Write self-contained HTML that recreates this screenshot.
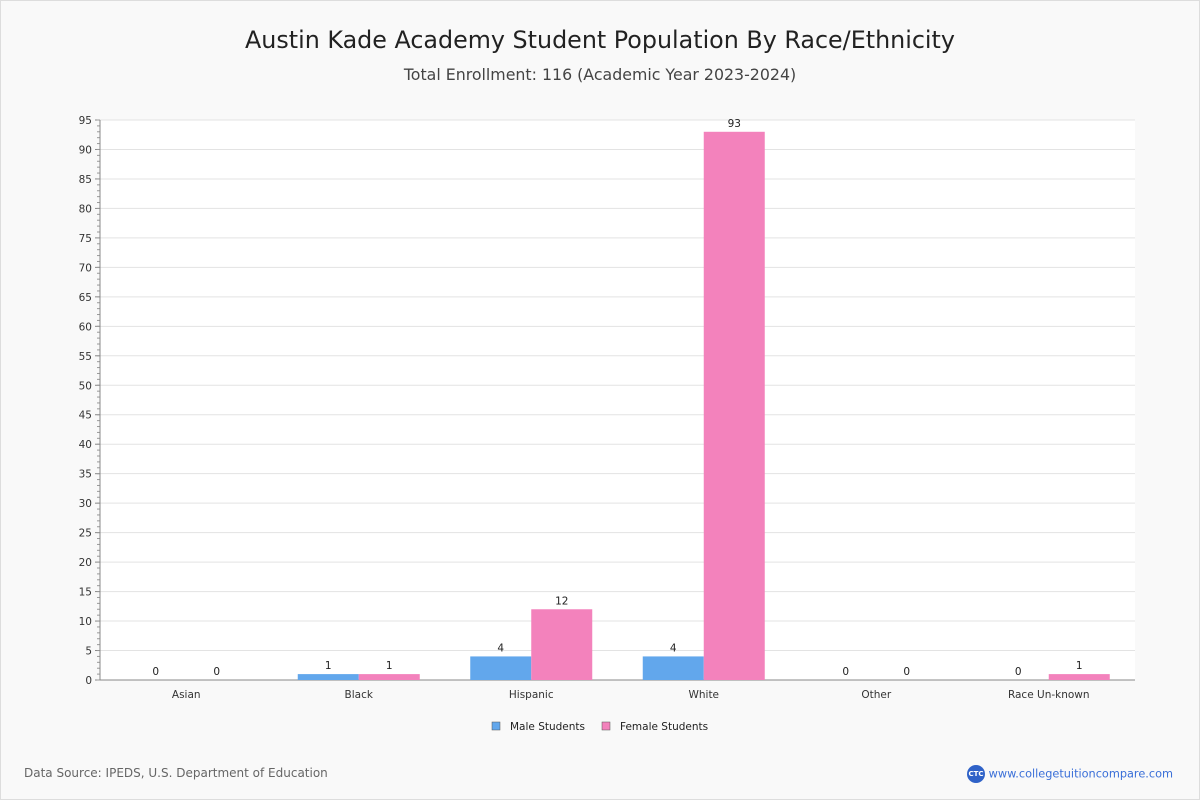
<!DOCTYPE html>
<html><head><meta charset="utf-8"><style>
body{margin:0;background:#fff}
#wrap{position:relative;width:1198px;height:798px;border:1px solid #ddd;background:#f9f9f9;font-family:"DejaVu Sans","Liberation Sans",sans-serif;overflow:hidden}
.t{position:absolute;white-space:nowrap}
</style></head><body>
<div id="wrap">
<div class="t" style="left:0;width:1198px;text-align:center;top:25px;font-size:23.8px;color:#222">Austin Kade Academy Student Population By Race/Ethnicity</div>
<div class="t" style="left:0;width:1198px;text-align:center;top:64px;font-size:15.8px;color:#444">Total Enrollment: 116 (Academic Year 2023-2024)</div>
<svg id="chart" width="1198" height="798" style="position:absolute;left:0;top:0" font-family="DejaVu Sans, Liberation Sans, sans-serif"></svg>
<div class="t" style="left:23px;top:765px;font-size:12px;color:#666">Data Source: IPEDS, U.S. Department of Education</div>
<div class="t" style="left:966px;top:764px;font-size:11.3px;color:#3a6fd8">
<span style="display:inline-block;width:18px;height:18px;border-radius:50%;background:#2f62c8;color:#fff;font-size:7px;text-align:center;line-height:18px;vertical-align:middle;font-weight:bold">CTC</span> <span style="vertical-align:middle">www.collegetuitioncompare.com</span></div>
</div>
<script>
const categories=["Asian","Black","Hispanic","White","Other","Race Un-known"];
const maleValues=[0,1,4,4,0,0];
const femaleValues=[0,1,12,93,0,1];
const yTicks=[0,5,10,15,20,25,30,35,40,45,50,55,60,65,70,75,80,85,90,95];
const seriesNames=["Male Students","Female Students"];
const colors=["#62a7ec","#f382bc"];
const svg=document.getElementById('chart');
const NS='http://www.w3.org/2000/svg';
const L=99,R=1134,T=119,B=679,yMax=95;
const y=v=>B-(v/yMax)*(B-T);
const band=(R-L)/categories.length;
const xc=i=>L+band*(i+0.5);
function mk(tag,attrs,parent){const e=document.createElementNS(NS,tag);for(const k in attrs)e.setAttribute(k,attrs[k]);(parent||svg).appendChild(e);return e;}
const bg=mk('rect',{x:L,y:T,width:R-L,height:B-T,fill:'#fff'});


yTicks.forEach(v=>{
 const g=mk('line',{x1:L,x2:R,y1:y(v),y2:y(v),stroke:'#e3e3e3'});
 
 
 mk('line',{x1:L-5,x2:L,y1:y(v),y2:y(v),stroke:'#888'});
 const t=mk('text',{x:L-8,y:y(v)+4,'text-anchor':'end','font-size':10.5,fill:'#333'});
 t.textContent=v;
 
 
});
for(let v=0;v<=yMax;v++){mk('line',{x1:L-3,x2:L,y1:y(v),y2:y(v),stroke:'#999'});}
mk('line',{x1:L,x2:L,y1:T,y2:B,stroke:'#888'});
mk('line',{x1:L,x2:R,y1:B,y2:B,stroke:'#888'});
const bw=61;
categories.forEach((c,i)=>{
 [maleValues[i],femaleValues[i]].forEach((v,s)=>{
  const x=xc(i)+(s===0?-bw:0);
  const r=mk('rect',{x:x,y:y(v),width:bw,height:B-y(v),fill:colors[s]});
  
  
  const t=mk('text',{x:x+bw/2,y:y(v)-5,'text-anchor':'middle','font-size':10.5,fill:'#222'});
  t.textContent=v;
  
  
 });
 const t=mk('text',{x:xc(i),y:B+18,'text-anchor':'middle','font-size':10.5,fill:'#333'});
 t.textContent=c;
 
 
});
const lx=[491,601];
seriesNames.forEach((n,s)=>{
 const r=mk('rect',{x:lx[s],y:721,width:8,height:8,fill:colors[s],stroke:'#555','stroke-width':0.5});
 
 
 const t=mk('text',{x:lx[s]+18,y:729,'font-size':10.5,fill:'#222'});
 t.textContent=n;
 
 
});
</script>
</body></html>
